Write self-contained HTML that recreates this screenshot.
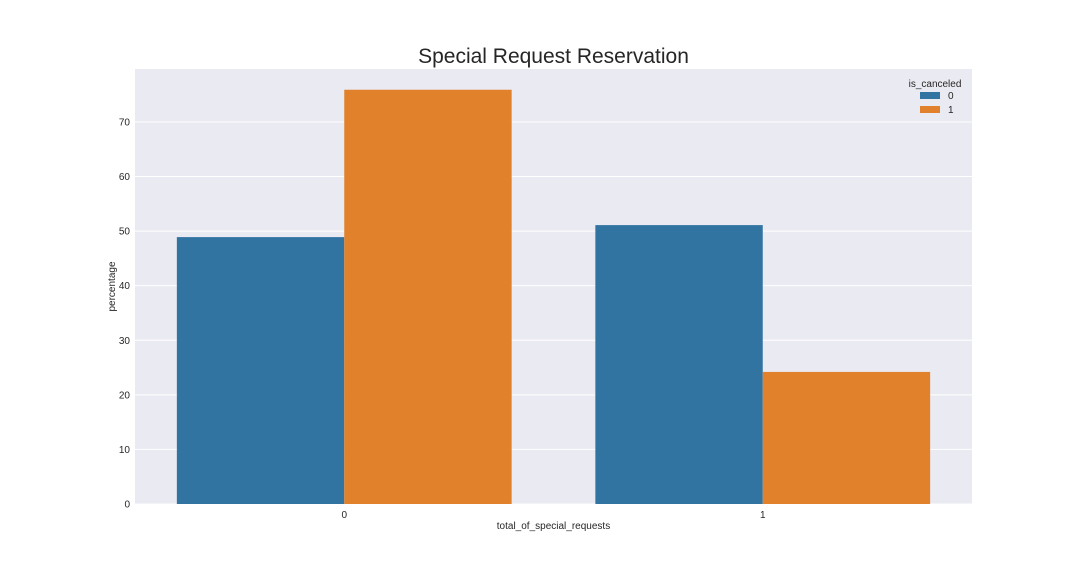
<!DOCTYPE html>
<html><head><meta charset="utf-8"><style>
body{margin:0;background:#fff;font-family:"Liberation Sans",Arial,sans-serif;}
svg{display:block}
</style></head><body>
<svg id="chart" width="1080" height="576" xmlns="http://www.w3.org/2000/svg" font-family="Liberation Sans, Arial, sans-serif"></svg>
<script>
const categories = ["0", "1"];
const seriesNames = ["0", "1"];
const canceled0 = [48.9, 51.1];
const canceled1 = [75.9, 24.2];
const yTicks = [0, 10, 20, 30, 40, 50, 60, 70];
const colors = ["#3274a1", "#e1812c"];

const svg = document.getElementById('chart');
const NS = 'http://www.w3.org/2000/svg';
const L = 135, R = 972, T = 69, B = 504, YMAX = 79.7;
function y(v){ return B - v / YMAX * (B - T); }
function x(c){ return L + (c + 0.5) / categories.length * (R - L); }
const step = (R - L) / categories.length;
function mk(tag, attrs, parent){ const e = document.createElementNS(NS, tag); for (const k in attrs) e.setAttribute(k, attrs[k]); (parent || svg).appendChild(e); return e; }

const bg = mk('rect', {x: L, y: T, width: R - L, height: B - T, fill: '#eaeaf2'});



yTicks.forEach(t => {
  const g = mk('line', {x1: L, x2: R, y1: y(t), y2: y(t), stroke: '#fff', 'stroke-width': 1});
  
  
  const lb = mk('text', {x: L - 5, y: y(t) + 3.5, 'text-anchor': 'end', 'font-size': 10, fill: '#262626'});
  lb.textContent = t;
  
  
});

const series = [canceled0, canceled1];
const bw = step * 0.4;
categories.forEach((c, i) => {
  series.forEach((s, j) => {
    const bx = x(i) - bw + j * bw;
    const r = mk('rect', {x: bx, y: y(s[i]), width: bw, height: B - y(s[i]), fill: colors[j]});
    
    
  });
  const lb = mk('text', {x: x(i), y: B + 14, 'text-anchor': 'middle', 'font-size': 10, fill: '#262626'});
  lb.textContent = c;
  
  
});

const title = mk('text', {x: (L + R) / 2, y: 63, 'text-anchor': 'middle', 'font-size': 21, fill: '#262626'});
title.textContent = 'Special Request Reservation';



const xt = mk('text', {x: (L + R) / 2, y: 529, 'text-anchor': 'middle', 'font-size': 10, fill: '#262626'});
xt.textContent = 'total_of_special_requests';



const yt = mk('text', {x: 115, y: (T + B) / 2, 'text-anchor': 'middle', 'font-size': 10, fill: '#262626', transform: 'rotate(-90 115 ' + (T + B) / 2 + ')'});
yt.textContent = 'percentage';



const lt = mk('text', {x: 935, y: 87, 'text-anchor': 'middle', 'font-size': 10, fill: '#262626'});
lt.textContent = 'is_canceled';


seriesNames.forEach((n, j) => {
  const sw = mk('rect', {x: 920, y: 92 + j * 14, width: 20, height: 7, fill: colors[j]});
  
  
  const tx = mk('text', {x: 948, y: 99 + j * 14, 'font-size': 10, fill: '#262626'});
  tx.textContent = n;
  
  
});
</script>
</body></html>
